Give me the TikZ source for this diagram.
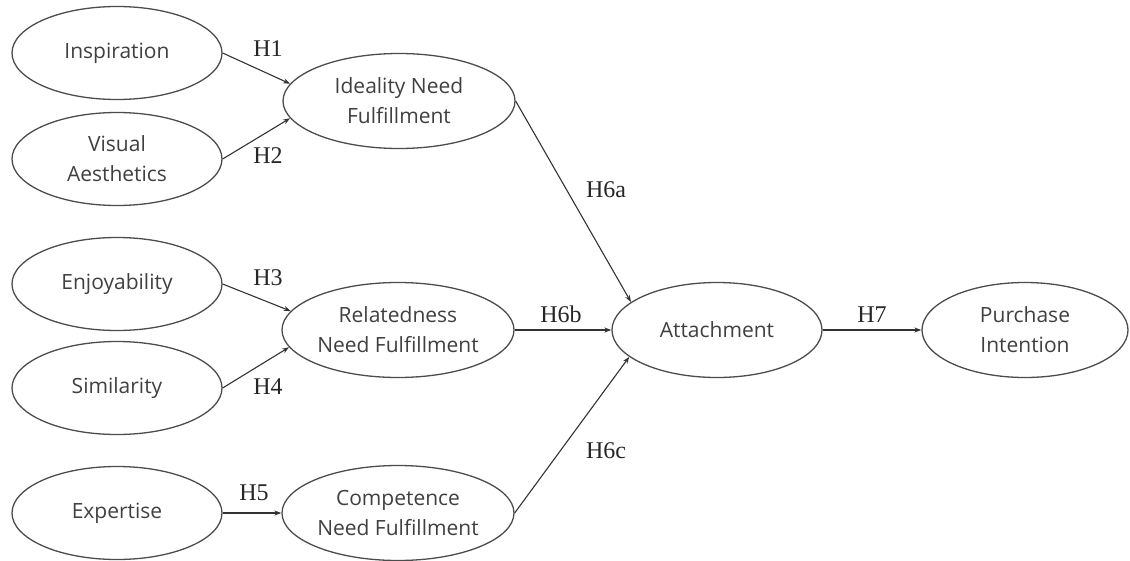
\documentclass[tikz,border=0pt]{standalone}
\usepackage{fontspec}
\setmainfont{Liberation Serif}
\newfontfamily\constructfont{Open Sans}
\usetikzlibrary{arrows.meta,shapes.geometric}

\begin{document}
\begin{tikzpicture}[>={Stealth[length=7pt,width=5pt]},x=1pt,y=-1pt,
  construct/.style={ellipse,draw=black!70,line width=1.3pt,inner sep=0pt,
    minimum width=210pt,minimum height=93pt,align=center,text=black!75,
    font=\constructfont\fontsize{21}{30}\selectfont},
  wide/.style={minimum width=232pt,minimum height=95pt},
  hyparrow/.style={->,line width=1.1pt,draw=black!80},
  hyp/.style={inner sep=0pt,font=\fontsize{24}{28}\selectfont,text=black!85}]
  \useasboundingbox (0,0) rectangle (1130,560);
  \node[construct] (insp) at (117,53) {Inspiration};
  \node[construct] (visual) at (117,159) {Visual\\Aesthetics};
  \node[construct] (enjoy) at (117,284) {Enjoyability};
  \node[construct] (simil) at (117,388) {Similarity};
  \node[construct] (expert) at (117,513) {Expertise};
  \node[construct,wide] (ideal) at (399,101) {Ideality Need\\Fulfillment};
  \node[construct,wide] (relat) at (398,330) {Relatedness\\Need Fulfillment};
  \node[construct,wide] (compet) at (398,513) {Competence\\Need Fulfillment};
  \node[construct,minimum height=95pt] (attach) at (717,330) {Attachment};
  \node[construct,minimum width=206pt,minimum height=95pt] (purch) at (1025,330) {Purchase\\Intention};
  \draw[hyparrow] (insp.east) -- (ideal.171);
  \draw[hyparrow] (visual.east) -- (ideal.189);
  \draw[hyparrow] (enjoy.east) -- (relat.170);
  \draw[hyparrow] (simil.east) -- (relat.189);
  \draw[hyparrow] (expert.east) -- (compet.west);
  \draw[hyparrow] (ideal.east) -- (attach.162);
  \draw[hyparrow] (relat.east) -- (attach.west);
  \draw[hyparrow] (compet.east) -- (attach.197);
  \draw[hyparrow] (attach.east) -- (purch.west);
  \node[hyp] (h1) at (268,49) {H1};
  \node[hyp] (h2) at (268,156) {H2};
  \node[hyp] (h3) at (268,278) {H3};
  \node[hyp] (h4) at (268,387) {H4};
  \node[hyp] (h5) at (254,493) {H5};
  \node[hyp] (h6a) at (606,190) {H6a};
  \node[hyp] (h6b) at (561,314) {H6b};
  \node[hyp] (h6c) at (606,451) {H6c};
  \node[hyp] (h7) at (872,315) {H7};
\end{tikzpicture}
\end{document}
